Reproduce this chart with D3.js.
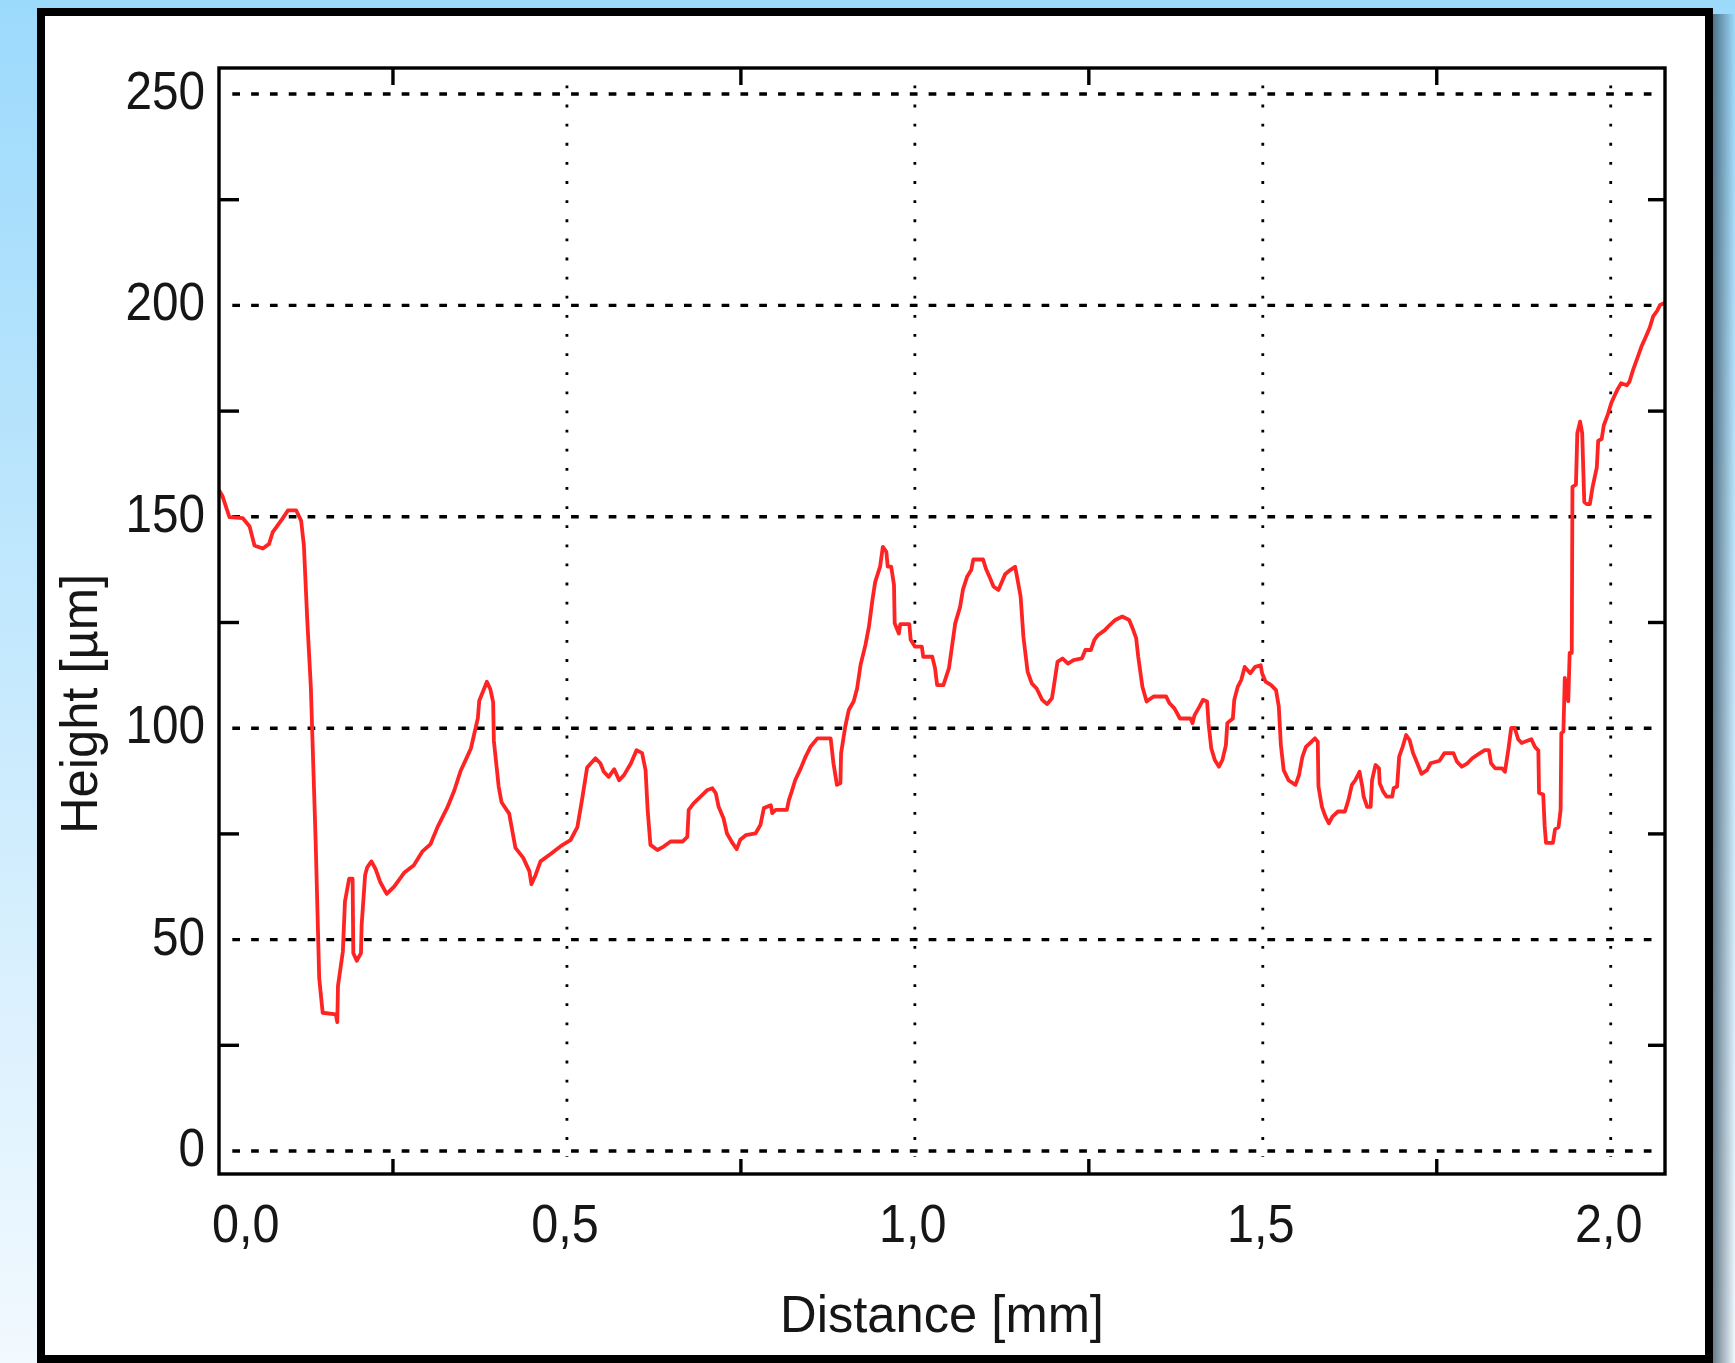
<!DOCTYPE html>
<meta charset="utf-8">
<style>
    body { margin: 0; }
    svg { display: block; }
    .tick-label, .axis-title {
        font-family: "Liberation Sans", Arial, sans-serif;
        fill: #161616;
    }
</style>

<svg width="1735" height="1363"></svg>
<script src="https://d3js.org/d3.v7.min.js"></script>

<script>
    // profile
    var distance = [
        0.000, 0.005, 0.015, 0.034, 0.044, 0.051, 0.063, 0.072, 0.077, 0.091, 0.099, 0.111, 0.118, 0.122, 0.127, 0.132,
        0.139, 0.144, 0.149, 0.168, 0.170, 0.171, 0.178, 0.181, 0.187, 0.192, 0.193, 0.198, 0.204, 0.205, 0.210, 0.213,
        0.219, 0.225, 0.232, 0.241, 0.252, 0.266, 0.280, 0.292, 0.304, 0.314, 0.328, 0.338, 0.347, 0.357, 0.362, 0.367,
        0.372, 0.374, 0.385, 0.390, 0.394, 0.395, 0.402, 0.406, 0.417, 0.426, 0.437, 0.446, 0.449, 0.455, 0.462, 0.477,
        0.491, 0.505, 0.515, 0.522, 0.529, 0.541,
        0.548, 0.553, 0.560, 0.568, 0.575, 0.582, 0.592, 0.600, 0.608, 0.613, 0.616, 0.620, 0.630, 0.639, 0.649, 0.666,
        0.673, 0.675, 0.682, 0.692, 0.702, 0.709, 0.714, 0.718, 0.725, 0.730, 0.738, 0.744, 0.749, 0.757, 0.771, 0.778,
        0.783, 0.793, 0.795, 0.800, 0.816, 0.819, 0.823, 0.828, 0.836, 0.843, 0.850, 0.860, 0.879, 0.883, 0.888, 0.893,
        0.894, 0.900, 0.905, 0.912, 0.917, 0.922, 0.929, 0.934, 0.939, 0.943, 0.950, 0.954, 0.959, 0.961, 0.966, 0.970,
        0.971, 0.977, 0.979, 0.992, 0.994, 1.000, 1.010, 1.012, 1.025, 1.029, 1.032, 1.041, 1.049, 1.054, 1.058, 1.065,
        1.069, 1.075, 1.081, 1.084, 1.098, 1.102, 1.108, 1.113, 1.120, 1.125, 1.130, 1.137, 1.144, 1.147, 1.152, 1.156,
        1.162, 1.168, 1.175, 1.183, 1.190,
        1.197, 1.200, 1.205, 1.212, 1.220, 1.228, 1.240, 1.245, 1.253, 1.258, 1.263, 1.273, 1.280, 1.288, 1.298, 1.308,
        1.313, 1.318, 1.321, 1.327, 1.333, 1.343, 1.361, 1.366, 1.373, 1.381, 1.396, 1.399, 1.402, 1.409, 1.414, 1.420,
        1.422, 1.426, 1.431, 1.437, 1.442, 1.447, 1.449, 1.457, 1.459, 1.464, 1.469, 1.474, 1.482, 1.489, 1.497, 1.499,
        1.504, 1.512, 1.519, 1.523, 1.526, 1.530, 1.537, 1.547, 1.552, 1.557, 1.562, 1.570, 1.575, 1.579, 1.580, 1.585,
        1.590, 1.595, 1.600, 1.608, 1.618, 1.623, 1.628, 1.633, 1.639, 1.643, 1.645, 1.650, 1.655, 1.657, 1.662, 1.667,
        1.668, 1.673, 1.678, 1.686, 1.688, 1.693, 1.696, 1.701, 1.706, 1.711, 1.716, 1.722, 1.728, 1.736, 1.741, 1.754,
        1.761, 1.774, 1.779, 1.786, 1.794, 1.801, 1.812, 1.819, 1.825, 1.828, 1.834, 1.844,
        1.848, 1.853, 1.857, 1.862, 1.867, 1.872, 1.886, 1.891, 1.896, 1.897, 1.903, 1.905, 1.907, 1.917, 1.920, 1.925,
        1.928, 1.929, 1.932, 1.934, 1.939, 1.941, 1.944, 1.945, 1.950, 1.952, 1.956, 1.959, 1.962, 1.966, 1.970, 1.974,
        1.980, 1.982, 1.987, 1.990, 1.996, 2.001, 2.006, 2.010, 2.015, 2.023, 2.027, 2.032, 2.038, 2.044, 2.050, 2.056,
        2.061, 2.067, 2.071, 2.078
    ];
    var height = [
        156.3, 154.9, 149.9, 149.7, 147.7, 143.2, 142.5, 143.6, 146.3, 149.5, 151.5, 151.5, 149.1, 143.2, 125.1, 109.7,
        72.6, 40.9, 32.7, 32.3, 30.5, 39.1, 47.2, 59.0, 64.4, 64.4, 46.8, 45.0, 46.8, 53.5, 65.3, 67.1,
        68.5, 66.7, 63.5, 60.8, 62.6, 65.8, 67.6, 70.8, 72.6, 76.6, 81.2, 85.2, 89.8, 93.4, 95.2, 98.8,
        102.4, 106.5, 111.0, 109.2, 106.1, 97.0, 86.1, 82.5, 79.8, 71.7, 69.4, 66.2, 63.1, 65.3, 68.5, 70.3,
        72.1, 73.5, 76.6, 83.4, 90.7, 92.9,
        91.7, 89.7, 88.5, 90.3, 87.7, 88.9, 91.7, 94.8, 94.1, 90.1, 80.7, 72.4, 71.2, 72.0, 73.2, 73.2,
        74.3, 80.7, 82.2, 83.8, 85.4, 85.8, 84.6, 81.4, 78.7, 75.1, 72.8, 71.4, 73.6, 74.7, 75.1, 77.1,
        81.1, 81.8, 79.9, 80.7, 80.7, 83.0, 85.0, 87.7, 90.5, 93.3, 95.6, 97.6, 97.6, 91.7, 86.6, 87.0,
        94.1, 100.4, 104.3, 106.3, 109.4, 115.0, 119.7, 124.0, 130.3, 134.6, 138.2, 142.9, 141.7, 138.2, 138.2, 133.9,
        124.8, 122.4, 124.6, 124.6, 120.9, 119.3, 119.3, 116.9, 116.9, 114.2, 110.2, 110.2, 114.2, 120.1, 124.8, 128.7,
        132.7, 135.8, 137.4, 139.9, 139.9, 137.8, 135.5, 133.5, 132.7, 134.6, 136.5, 137.4, 138.2, 135.7, 131.1, 121.6,
        113.4, 110.6, 109.4, 106.7, 105.7,
        107.1, 110.2, 115.7, 116.5, 115.3, 116.1, 116.5, 118.5, 118.5, 120.9, 122.0, 123.2, 124.4, 125.6, 126.4, 125.6,
        123.6, 121.3, 116.9, 109.8, 106.3, 107.5, 107.5, 105.9, 104.7, 102.3, 102.3, 101.2, 103.1, 105.1, 106.7, 106.3,
        101.2, 95.2, 92.5, 90.9, 92.5, 96.0, 101.2, 102.3, 106.7, 109.8, 111.4, 114.5, 113.0, 114.5, 114.9, 113.0,
        111.0, 110.2, 109.0, 105.1, 96.0, 90.1, 87.7, 86.6, 88.9, 93.3, 95.6, 96.8, 97.6, 96.8, 86.2, 81.4,
        79.1, 77.5, 79.1, 80.3, 80.3, 83.0, 86.6, 87.7, 89.7, 86.2, 83.8, 81.4, 81.4, 87.7, 91.3, 90.5,
        87.0, 85.0, 83.8, 83.8, 85.8, 86.2, 93.3, 95.6, 98.4, 97.2, 94.1, 91.7, 89.2, 90.1, 91.7, 92.3,
        94.1, 94.1, 92.1, 90.9, 91.7, 92.9, 94.1, 94.8, 94.8, 91.7, 90.5, 90.5,
        89.7, 95.1, 100.1, 100.1, 97.4, 96.5, 97.4, 95.6, 94.7, 84.7, 84.3, 77.0, 72.9, 72.9, 76.1, 76.6,
        80.7, 98.8, 99.2, 111.9, 106.4, 117.8, 117.8, 157.1, 157.6, 169.8, 172.5, 169.8, 153.5, 153.0, 153.0, 157.1,
        161.7, 168.0, 168.4, 171.6, 174.3, 177.0, 178.8, 180.2, 181.6, 181.1, 182.0, 184.7, 187.4, 190.2, 192.4, 194.7,
        197.4, 198.8, 200.1, 200.6
    ];

    var xGridValues = [0.5, 1.0, 1.5, 2.0];
    var xTickValues = [0.25, 0.75, 1.25, 1.75];
    var xLabelValues = [0.0, 0.5, 1.0, 1.5, 2.0];
    var xLabels = ["0,0", "0,5", "1,0", "1,5", "2,0"];
    var yGridValues = [0, 50, 100, 150, 200, 250];
    var yTickValues = [25, 75, 125, 175, 225];
    var yLabels = ["0", "50", "100", "150", "200", "250"];

    var svg = d3.select("svg");
    var defs = svg.append("defs");

    var bg = defs.append("linearGradient").attr("id", "bg")
        .attr("x1", 0).attr("y1", 0).attr("x2", 0).attr("y2", 1);
    bg.append("stop").attr("offset", "0%").attr("stop-color", "#9cdafc");
    bg.append("stop").attr("offset", "55%").attr("stop-color", "#cbebfd");
    bg.append("stop").attr("offset", "100%").attr("stop-color", "#f2f9ff");

    var shade = defs.append("linearGradient").attr("id", "shade")
        .attr("x1", 0).attr("y1", 0).attr("x2", 1).attr("y2", 0);
    shade.append("stop").attr("offset", "0%").attr("stop-color", "#2c4658").attr("stop-opacity", 0.7);
    shade.append("stop").attr("offset", "100%").attr("stop-color", "#2c4658").attr("stop-opacity", 0);

    svg.append("rect").attr("width", 1735).attr("height", 1363).attr("fill", "url(#bg)");
    svg.append("rect").attr("x", 1713).attr("y", 14).attr("width", 22).attr("height", 1349)
        .attr("fill", "url(#shade)");
    svg.append("rect").attr("x", 41).attr("y", 12).attr("width", 1668).attr("height", 1347)
        .attr("fill", "#fff").attr("stroke", "#000").attr("stroke-width", 8);

    var x = d3.scaleLinear().domain([0, 2.078]).range([219, 1665]);
    var y = d3.scaleLinear().domain([-5.44, 256.15]).range([1174, 68]);
    var x0 = x.range()[0], x1 = x.range()[1];
    var yb = y.range()[0], yt = y.range()[1];

    // grid
    svg.append("g").selectAll("line").data(yGridValues).enter().append("line")
        .attr("x1", x0 + 13.3).attr("x2", x1 - 13.3)
        .attr("y1", function (d) { return y(d); }).attr("y2", function (d) { return y(d); })
        .attr("stroke", "#000").attr("stroke-width", 3.4)
        .attr("stroke-dasharray", "7.7,11.12");
    svg.append("g").selectAll("line").data(xGridValues).enter().append("line")
        .attr("x1", function (d) { return x(d); }).attr("x2", function (d) { return x(d); })
        .attr("y1", yt + 17.5).attr("y2", yb - 17)
        .attr("stroke", "#000").attr("stroke-width", 2.8)
        .attr("stroke-dasharray", "2.8,16.32");

    // ticks (inward, both sides)
    var tk = svg.append("g").attr("stroke", "#000").attr("stroke-width", 3.4);
    xTickValues.forEach(function (v) {
        tk.append("line").attr("x1", x(v)).attr("x2", x(v)).attr("y1", yt).attr("y2", yt + 17);
        tk.append("line").attr("x1", x(v)).attr("x2", x(v)).attr("y1", yb).attr("y2", yb - 15);
    });
    yTickValues.forEach(function (v) {
        tk.append("line").attr("y1", y(v)).attr("y2", y(v)).attr("x1", x0).attr("x2", x0 + 20);
        tk.append("line").attr("y1", y(v)).attr("y2", y(v)).attr("x1", x1).attr("x2", x1 - 17);
    });

    // profile line
    var pts = d3.zip(distance, height);
    svg.append("path")
        .datum(pts)
        .attr("fill", "none")
        .attr("stroke", "#ff2424")
        .attr("stroke-width", 3.8)
        .attr("stroke-linejoin", "round")
        .attr("d", d3.line()
            .x(function (d) { return x(d[0]); })
            .y(function (d) { return y(d[1]); }));

    // axes box
    svg.append("rect")
        .attr("x", x0).attr("y", yt).attr("width", x1 - x0).attr("height", yb - yt)
        .attr("fill", "none").attr("stroke", "#000").attr("stroke-width", 3.4);

    // tick labels
    yGridValues.forEach(function (v, i) {
        svg.append("g").attr("transform", "translate(" + 205 + "," + (y(v) + 15) + ") scale(0.9,1)")
            .append("text").attr("class", "tick-label")
            .style("font-size", "53px").style("text-anchor", "end")
            .text(yLabels[i]);
    });
    xLabelValues.forEach(function (v, i) {
        var px = i == 0 ? x(v) - 7 : x(v) - 2;
        svg.append("g").attr("transform", "translate(" + px + ",1242) scale(0.9,1)")
            .append("text").attr("class", "tick-label")
            .style("font-size", "54px").style("text-anchor", i == 0 ? "start" : "middle")
            .text(xLabels[i]);
    });

    // axis titles
    svg.append("g").attr("transform", "translate(" + ((x0 + x1) / 2) + ",1332) scale(0.975,1)")
        .append("text").attr("class", "axis-title")
        .style("font-size", "52px").style("text-anchor", "middle")
        .text("Distance [mm]");
    svg.append("g").attr("transform", "translate(97,704) rotate(-90) scale(0.975,1)")
        .append("text").attr("class", "axis-title")
        .style("font-size", "52px").style("text-anchor", "middle")
        .text("Height [µm]");
</script>
